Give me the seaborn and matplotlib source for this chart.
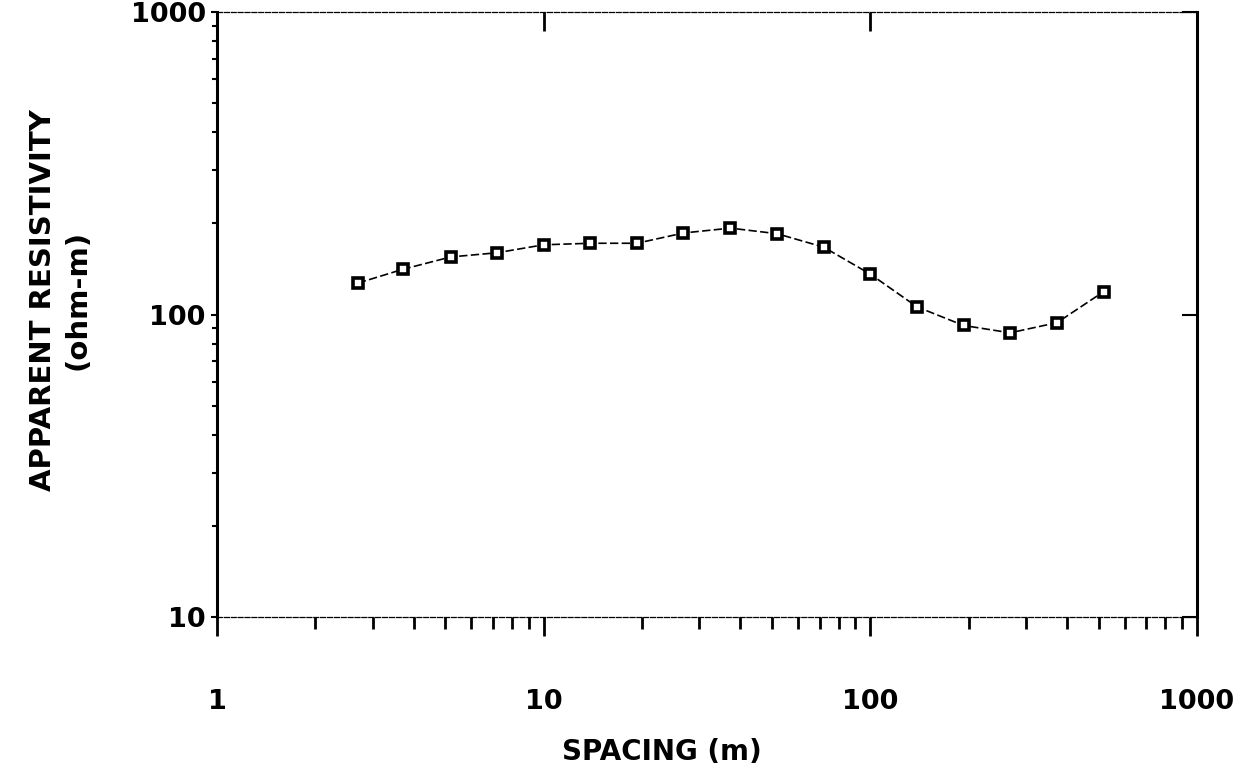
import numpy as np
import pandas as pd
import matplotlib
matplotlib.use('Agg')
import matplotlib.pyplot as plt
import seaborn as sns
from matplotlib.ticker import LogLocator, NullFormatter

# sounding curve
spacing = [2.7, 3.7, 5.2, 7.2, 10, 13.9, 19.3, 26.8, 37.3, 51.8, 72, 100, 139, 193, 268, 373, 518]
app_res = [127, 141, 155, 160, 170, 172, 172, 186, 193, 185, 167, 136, 106, 92, 87, 94, 119]
x_ticks = [1, 10, 100, 1000]
y_ticks = [10, 100, 1000]

df = pd.DataFrame({'Spacing': spacing, 'Rho': app_res})

sns.set_style('white')
plt.rcParams['font.family'] = ['DejaVu Sans']
plt.rcParams['font.weight'] = 'bold'
for k in ['text.color', 'axes.labelcolor', 'xtick.color', 'ytick.color', 'axes.edgecolor']:
    plt.rcParams[k] = 'black'

fig = plt.figure(figsize=(12.44, 7.74), dpi=100)
ax = fig.add_axes([0.1744, 0.2028, 0.7878, 0.7817])

sns.lineplot(data=df, x='Spacing', y='Rho', ax=ax, color='black', lw=1.2,
             linestyle=(0, (5, 2)), marker='s', markersize=7.5,
             markerfacecolor='white', markeredgecolor='black', markeredgewidth=2.6)

ax.set(xscale='log', yscale='log', xlim=(1, 1000), ylim=(10, 1000))
ax.set_xticks(x_ticks, labels=[str(v) for v in x_ticks])
ax.set_yticks(y_ticks, labels=[str(v) for v in y_ticks])
ax.xaxis.set_minor_locator(LogLocator(base=10, subs=range(2, 10), numticks=20))
ax.yaxis.set_minor_locator(LogLocator(base=10, subs=range(2, 10), numticks=20))
ax.xaxis.set_minor_formatter(NullFormatter())
ax.yaxis.set_minor_formatter(NullFormatter())

# spines: heavy solid sides, thin dashed top/bottom
for s in ['left', 'right']:
    ax.spines[s].set_linewidth(2.2)
for s in ['top', 'bottom']:
    ax.spines[s].set_linewidth(0.9)
    ax.spines[s].set_linestyle((0, (4, 1.5)))

ax.tick_params(axis='x', which='major', bottom=True, top=True, direction='out',
               length=14, width=2, pad=38, labelsize=19.5, labelcolor='black')
ax.tick_params(axis='x', which='minor', bottom=True, top=False, direction='out',
               length=8.5, width=2)
ax.tick_params(axis='y', which='major', left=True, right=True, direction='out',
               length=4, width=1.5, pad=4, labelsize=19.5, labelcolor='black')
ax.tick_params(axis='y', which='minor', left=True, right=False, direction='out',
               length=3.5, width=1.5)
# inward ticks on the top and right frame
for t in ax.xaxis.get_major_ticks():
    t.tick2line.set_marker(matplotlib.lines.TICKDOWN)
for t in ax.yaxis.get_major_ticks():
    t.tick2line.set_marker(matplotlib.lines.TICKLEFT)
    t.tick2line.set_markersize(11)

ax.set_xlabel('SPACING (m)', fontsize=20, fontweight='bold', color='black')
ax.set_ylabel('APPARENT RESISTIVITY\n(ohm-m)', fontsize=21, fontweight='bold',
              linespacing=1.3, color='black')
ax.xaxis.set_label_coords(0.454, -0.2)
ax.yaxis.set_label_coords(-0.128, 0.524)

plt.savefig('out.png', dpi=100)
plt.close()
